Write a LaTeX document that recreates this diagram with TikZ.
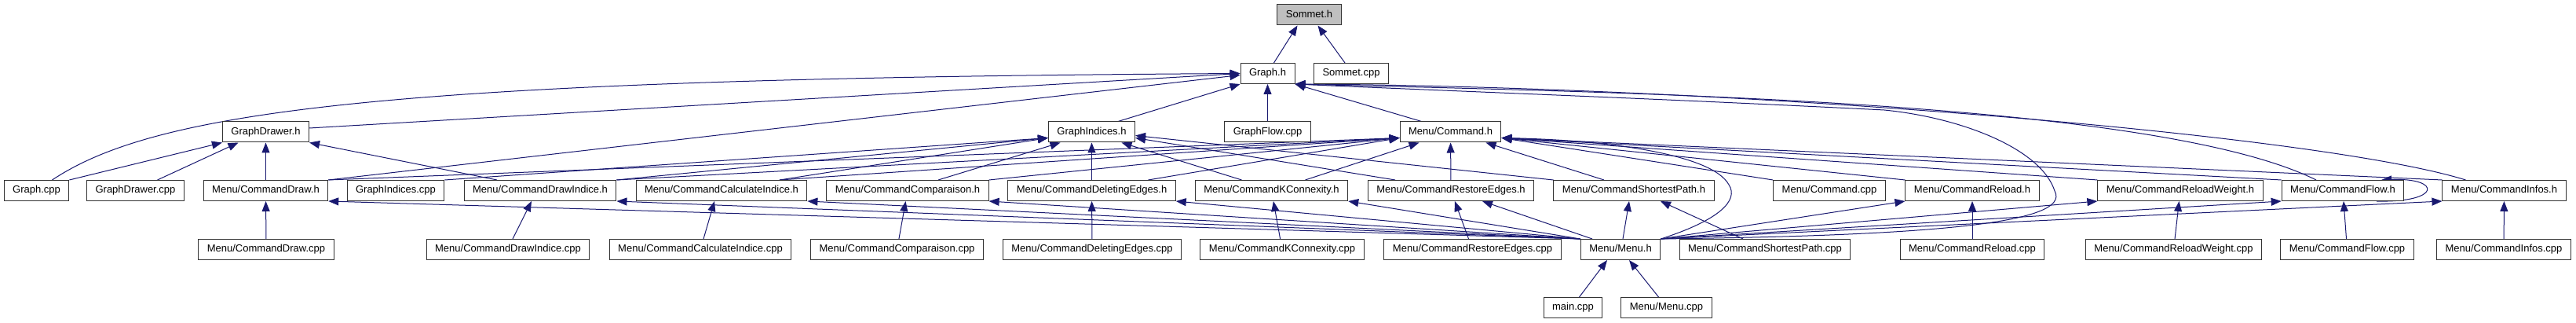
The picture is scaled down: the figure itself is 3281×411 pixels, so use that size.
\documentclass[tikz,border=0pt]{standalone}
\usepackage{fontspec}
\setmainfont{Liberation Sans}
\usetikzlibrary{arrows.meta,backgrounds}
\definecolor{edgeblue}{HTML}{191970}
\tikzstyle{filebox}=[rectangle,draw=black!80,line width=1pt,fill=white,minimum height=26pt,inner xsep=11pt,text height=9.5pt,text depth=2.5pt,font=\fontsize{13}{15}\selectfont]
\tikzstyle{curbox}=[filebox,fill=black!25]
\tikzstyle{incl}=[draw=edgeblue,line width=1pt,-{Triangle[length=13pt,width=10pt]}]

\begin{document}
\begin{tikzpicture}[x=1pt,y=-1pt]
\useasboundingbox (0,0) rectangle (3281,411);
\node[curbox] (sommeth) at (1667.5,19) {Sommet.h};
\node[filebox] (graphh) at (1614.5,93.5) {Graph.h};
\node[filebox] (sommetcpp) at (1721,93.5) {Sommet.cpp};
\node[filebox] (drawerh) at (338.5,168) {GraphDrawer.h};
\node[filebox] (indicesh) at (1390.5,168) {GraphIndices.h};
\node[filebox] (flowcpp) at (1614.5,168) {GraphFlow.cpp};
\node[filebox] (commandh) at (1847.5,168) {Menu/Command.h};
\node[filebox] (graphcpp) at (46.5,242.5) {Graph.cpp};
\node[filebox] (drawercpp) at (172.5,242.5) {GraphDrawer.cpp};
\node[filebox] (cdrawh) at (338.5,242.5) {Menu/CommandDraw.h};
\node[filebox] (indicescpp) at (504,242.5) {GraphIndices.cpp};
\node[filebox] (cdrawindh) at (688,242.5) {Menu/CommandDrawIndice.h};
\node[filebox] (ccalch) at (919,242.5) {Menu/CommandCalculateIndice.h};
\node[filebox] (ccomph) at (1156,242.5) {Menu/CommandComparaison.h};
\node[filebox] (cdelh) at (1390.5,242.5) {Menu/CommandDeletingEdges.h};
\node[filebox] (ckconh) at (1619.5,242.5) {Menu/CommandKConnexity.h};
\node[filebox] (crestoreh) at (1848,242.5) {Menu/CommandRestoreEdges.h};
\node[filebox] (cshorth) at (2081,242.5) {Menu/CommandShortestPath.h};
\node[filebox] (commandcpp) at (2330,242.5) {Menu/Command.cpp};
\node[filebox] (creloadh) at (2512,242.5) {Menu/CommandReload.h};
\node[filebox] (crelwh) at (2777,242.5) {Menu/CommandReloadWeight.h};
\node[filebox] (cflowh) at (2984,242.5) {Menu/CommandFlow.h};
\node[filebox] (cinfosh) at (3189.5,242.5) {Menu/CommandInfos.h};
\node[filebox] (cdrawcpp) at (339,317.5) {Menu/CommandDraw.cpp};
\node[filebox] (cdrawindcpp) at (647,317.5) {Menu/CommandDrawIndice.cpp};
\node[filebox] (ccalccpp) at (892,317.5) {Menu/CommandCalculateIndice.cpp};
\node[filebox] (ccompcpp) at (1142.5,317.5) {Menu/CommandComparaison.cpp};
\node[filebox] (cdelcpp) at (1391,317.5) {Menu/CommandDeletingEdges.cpp};
\node[filebox] (ckconcpp) at (1633,317.5) {Menu/CommandKConnexity.cpp};
\node[filebox] (crestorecpp) at (1875.5,317.5) {Menu/CommandRestoreEdges.cpp};
\node[filebox] (menuh) at (2064,317.5) {Menu/Menu.h};
\node[filebox] (cshortcpp) at (2248,317.5) {Menu/CommandShortestPath.cpp};
\node[filebox] (creloadcpp) at (2512,317.5) {Menu/CommandReload.cpp};
\node[filebox] (crelwcpp) at (2768.5,317.5) {Menu/CommandReloadWeight.cpp};
\node[filebox] (cflowcpp) at (2989.5,317.5) {Menu/CommandFlow.cpp};
\node[filebox] (cinfoscpp) at (3189,317.5) {Menu/CommandInfos.cpp};
\node[filebox] (maincpp) at (2003.5,391.5) {main.cpp};
\node[filebox] (menucpp) at (2122.5,391.5) {Menu/Menu.cpp};
\begin{scope}[on background layer]
\draw[incl] ([xshift=8pt]graphh.north) -- ([xshift=-15pt]sommeth.south);
\draw[incl] ([xshift=-8pt]sommetcpp.north) -- ([xshift=11pt]sommeth.south);
\draw[incl] ([xshift=20pt]graphcpp.north) .. controls (200,140) and (500,100) .. (graphh.west);
\draw[incl] ([yshift=5pt]drawerh.east) -- (graphh.west);
\draw[incl] (cdrawh.north east) -- ([yshift=-2pt]graphh.west);
\draw[incl] ([xshift=-22pt]indicesh.north east) -- (graphh.south west);
\draw[incl] (flowcpp) -- (graphh);
\draw[incl] ([xshift=-37pt]commandh.north) -- (graphh.south east);
\draw[incl] (menuh.north east) .. controls (2450,300) and (2640,285) .. (2617,243) .. controls (2600,190) and (2500,150) .. (2400,140) .. controls (2100,125) and (1900,118) .. (graphh.south east);
\draw[incl] ([xshift=-34pt]cflowh.north) .. controls (2750,130) and (2100,118) .. (graphh.south east);
\draw[incl] ([xshift=-49pt]cinfosh.north) .. controls (2950,170) and (2200,110) .. (graphh.south east);
\draw[incl] (graphcpp.north east) -- (drawerh.south west);
\draw[incl] ([xshift=28pt]drawercpp.north) -- ([xshift=-35pt]drawerh.south);
\draw[incl] (cdrawh) -- (drawerh);
\draw[incl] ([xshift=-55pt]cdrawindh.north) -- (drawerh.south east);
\draw[incl] (indicescpp.north east) -- ([yshift=6pt]indicesh.south west);
\draw[incl] (cdrawindh.north east) -- ([yshift=6pt]indicesh.south west);
\draw[incl] ([xshift=74pt]ccalch.north) -- ([yshift=6pt]indicesh.south west);
\draw[incl] ([xshift=39pt]ccomph.north) -- ([xshift=-40pt]indicesh.south);
\draw[incl] (cdelh) -- (indicesh);
\draw[incl] ([xshift=-38pt]ckconh.north) -- ([xshift=38pt]indicesh.south);
\draw[incl] ([xshift=-71pt]crestoreh.north) -- ([yshift=6pt]indicesh.south east);
\draw[incl] (cshorth.north west) -- ([yshift=9pt]indicesh.south east);
\draw[incl] (cdrawh.north east) -- ([yshift=6pt]commandh.south west);
\draw[incl] (cdrawindh.north east) -- ([yshift=6pt]commandh.south west);
\draw[incl] ([xshift=74pt]ccalch.north) -- ([yshift=6pt]commandh.south west);
\draw[incl] (ccomph.north east) -- ([yshift=6pt]commandh.south west);
\draw[incl] ([xshift=72pt]cdelh.north) -- ([yshift=6pt]commandh.south west);
\draw[incl] ([xshift=43pt]ckconh.north) -- ([xshift=-40pt]commandh.south);
\draw[incl] (crestoreh) -- (commandh);
\draw[incl] ([xshift=-38pt]cshorth.north) -- ([xshift=45pt]commandh.south);
\draw[incl] (commandcpp.north west) -- ([yshift=6pt]commandh.south east);
\draw[incl] (creloadh.north west) -- ([yshift=6pt]commandh.south east);
\draw[incl] (crelwh.north west) -- ([yshift=6pt]commandh.south east);
\draw[incl] (cflowh.north west) -- ([yshift=6pt]commandh.south east);
\draw[incl] (cinfosh.north west) -- ([yshift=6pt]commandh.south east);
\draw[incl] (menuh.north east) .. controls (2190,280) and (2215,255) .. (2202,235) .. controls (2180,195) and (2040,178) .. ([yshift=6pt]commandh.south east);
\draw[incl] (menuh.north west) -- (cdrawh.south east);
\draw[incl] (menuh.north west) -- (cdrawindh.south east);
\draw[incl] (menuh.north west) -- (ccalch.south east);
\draw[incl] (menuh.north west) -- (ccomph.south east);
\draw[incl] (menuh.north west) -- (cdelh.south east);
\draw[incl] (menuh.north west) -- (ckconh.south east);
\draw[incl] ([xshift=-36pt]menuh.north) -- ([xshift=40pt]crestoreh.south);
\draw[incl] ([xshift=3pt]menuh.north) -- ([xshift=-6pt]cshorth.south);
\draw[incl] (menuh.north east) -- (creloadh.south west);
\draw[incl] (menuh.north east) -- (crelwh.south west);
\draw[incl] (menuh.north east) -- (cflowh.south west);
\draw[incl] (menuh.north east) -- (cinfosh.south west);
\draw[incl] (cdrawcpp) -- (cdrawh);
\draw[incl] ([xshift=6pt]cdrawindcpp.north) -- ([xshift=-11pt]cdrawindh.south);
\draw[incl] ([xshift=4pt]ccalccpp.north) -- ([xshift=-9pt]ccalch.south);
\draw[incl] (ccompcpp) -- (ccomph);
\draw[incl] (cdelcpp) -- (cdelh);
\draw[incl] (ckconcpp) -- (ckconh);
\draw[incl] (crestorecpp) -- (crestoreh);
\draw[incl] ([xshift=-28pt]cshortcpp.north) -- ([xshift=34pt]cshorth.south);
\draw[incl] (creloadcpp) -- (creloadh);
\draw[incl] (crelwcpp) -- (crelwh);
\draw[incl] (cflowcpp) -- (cflowh);
\draw[incl] (cinfoscpp) -- (cinfosh);
\draw[incl] ([xshift=43pt]cflowh.south) .. controls (3110,258) and (3110,226) .. ([xshift=49pt]cflowh.north);
\draw[incl] ([xshift=8pt]maincpp.north) -- ([xshift=-17pt]menuh.south);
\draw[incl] ([xshift=-10pt]menucpp.north) -- ([xshift=11pt]menuh.south);
\end{scope}
\end{tikzpicture}
\end{document}
